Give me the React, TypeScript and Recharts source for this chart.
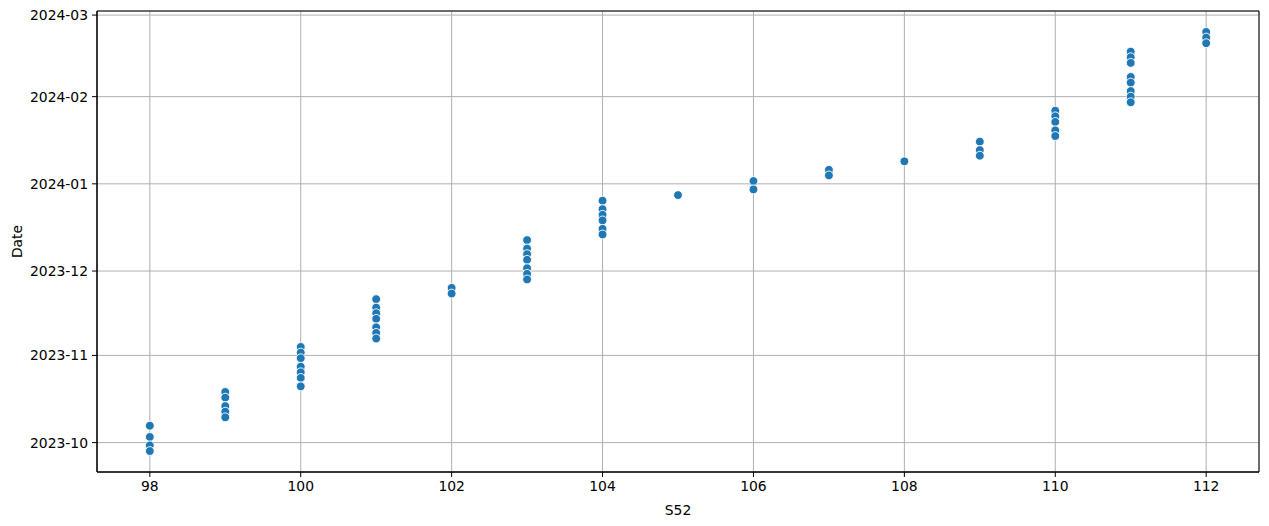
import { ScatterChart, Scatter, XAxis, YAxis, CartesianGrid, ReferenceArea } from "recharts"

// S52 levels and the dates observed at each level
const S52_LEVELS = [98, 99, 100, 101, 102, 103, 104, 105, 106, 107, 108, 109, 110, 111, 112]

const DATES_BY_LEVEL: string[][] = [
  ["2023-10-07", "2023-10-03", "2023-09-30", "2023-09-28"],
  ["2023-10-19", "2023-10-17", "2023-10-14", "2023-10-12", "2023-10-10"],
  ["2023-11-04", "2023-11-02", "2023-10-31", "2023-10-28", "2023-10-26", "2023-10-24", "2023-10-21"],
  ["2023-11-21", "2023-11-18", "2023-11-16", "2023-11-14", "2023-11-11", "2023-11-09", "2023-11-07"],
  ["2023-11-25", "2023-11-23"],
  ["2023-12-12", "2023-12-09", "2023-12-07", "2023-12-05", "2023-12-02", "2023-11-30", "2023-11-28"],
  ["2023-12-26", "2023-12-23", "2023-12-21", "2023-12-19", "2023-12-16", "2023-12-14"],
  ["2023-12-28"],
  ["2024-01-02", "2023-12-30"],
  ["2024-01-06", "2024-01-04"],
  ["2024-01-09"],
  ["2024-01-16", "2024-01-13", "2024-01-11"],
  ["2024-01-27", "2024-01-25", "2024-01-23", "2024-01-20", "2024-01-18"],
  ["2024-02-17", "2024-02-15", "2024-02-13", "2024-02-08", "2024-02-06", "2024-02-03", "2024-02-01", "2024-01-30"],
  ["2024-02-24", "2024-02-22", "2024-02-20"],
]

const X_TICKS = [98, 100, 102, 104, 106, 108, 110, 112]
const Y_TICK_MONTHS = ["2023-10-01", "2023-11-01", "2023-12-01", "2024-01-01", "2024-02-01", "2024-03-01"]

const DAY = 86400000
const toMs = (s: string) => Date.parse(s + "T00:00:00Z")

const points = S52_LEVELS.flatMap((s52, i) => DATES_BY_LEVEL[i].map((d) => ({ s52, date: toMs(d) })))

// matplotlib-style 5% padding
const xMin = 97.3
const xMax = 112.7
const dMin = Math.min(...points.map((p) => p.date))
const dMax = Math.max(...points.map((p) => p.date))
const yPad = (dMax - dMin) * 0.05
const yMin = dMin - yPad
const yMax = dMax + yPad

const yTicks = Y_TICK_MONTHS.map(toMs)

const fmtMonth = (v: number) => {
  const d = new Date(v)
  return `${d.getUTCFullYear()}-${String(d.getUTCMonth() + 1).padStart(2, "0")}`
}

const FONT = "DejaVu Sans, sans-serif"
const tickStyle = { fill: "#000", fontSize: 13.9, fontFamily: FONT }

const Dot = (props: any) => {
  const { cx, cy } = props
  if (cx == null || cy == null) return null
  return <circle cx={cx} cy={cy} r={4.4} fill="#1f77b4" stroke="#fff" strokeWidth={0.9} />
}

const XLabel = ({ viewBox }: any) => (
  <text x={viewBox.x + viewBox.width / 2} y={viewBox.y + 43} textAnchor="middle" fill="#000" fontSize={13.9} fontFamily={FONT}>
    S52
  </text>
)

const YLabel = ({ viewBox }: any) => {
  const x = viewBox.x + 22
  const y = viewBox.y + viewBox.height / 2
  return (
    <text x={x} y={y} transform={`rotate(-90 ${x} ${y})`} textAnchor="middle" fill="#000" fontSize={13.9} fontFamily={FONT}>
      Date
    </text>
  )
}

export default function App() {
  return (
    <div style={{ position: "absolute", left: 0, top: 0, width: 1269, height: 526, background: "#fff" }}>
      <ScatterChart width={1269} height={526} margin={{ top: 11, right: 10, bottom: 0, left: 0 }}>
        <CartesianGrid stroke="#b0b0b0" strokeWidth={1} />
        <XAxis
          type="number"
          dataKey="s52"
          domain={[xMin, xMax]}
          ticks={X_TICKS}
          allowDataOverflow
          height={54}
          tick={tickStyle}
          tickSize={5}
          tickMargin={4}
          tickLine={{ stroke: "#000" }}
          axisLine={{ stroke: "#000" }}
          label={<XLabel />}
        />
        <YAxis
          type="number"
          dataKey="date"
          domain={[yMin, yMax]}
          ticks={yTicks}
          allowDataOverflow
          width={97}
          tick={tickStyle}
          tickSize={5}
          tickMargin={4}
          tickLine={{ stroke: "#000" }}
          axisLine={{ stroke: "#000" }}
          tickFormatter={fmtMonth}
          label={<YLabel />}
        />
        <ReferenceArea x1={xMin} x2={xMax} y1={yMin} y2={yMax} fill="none" stroke="#000" strokeWidth={1} />
        <Scatter data={points} shape={<Dot />} isAnimationActive={false} />
      </ScatterChart>
    </div>
  )
}
